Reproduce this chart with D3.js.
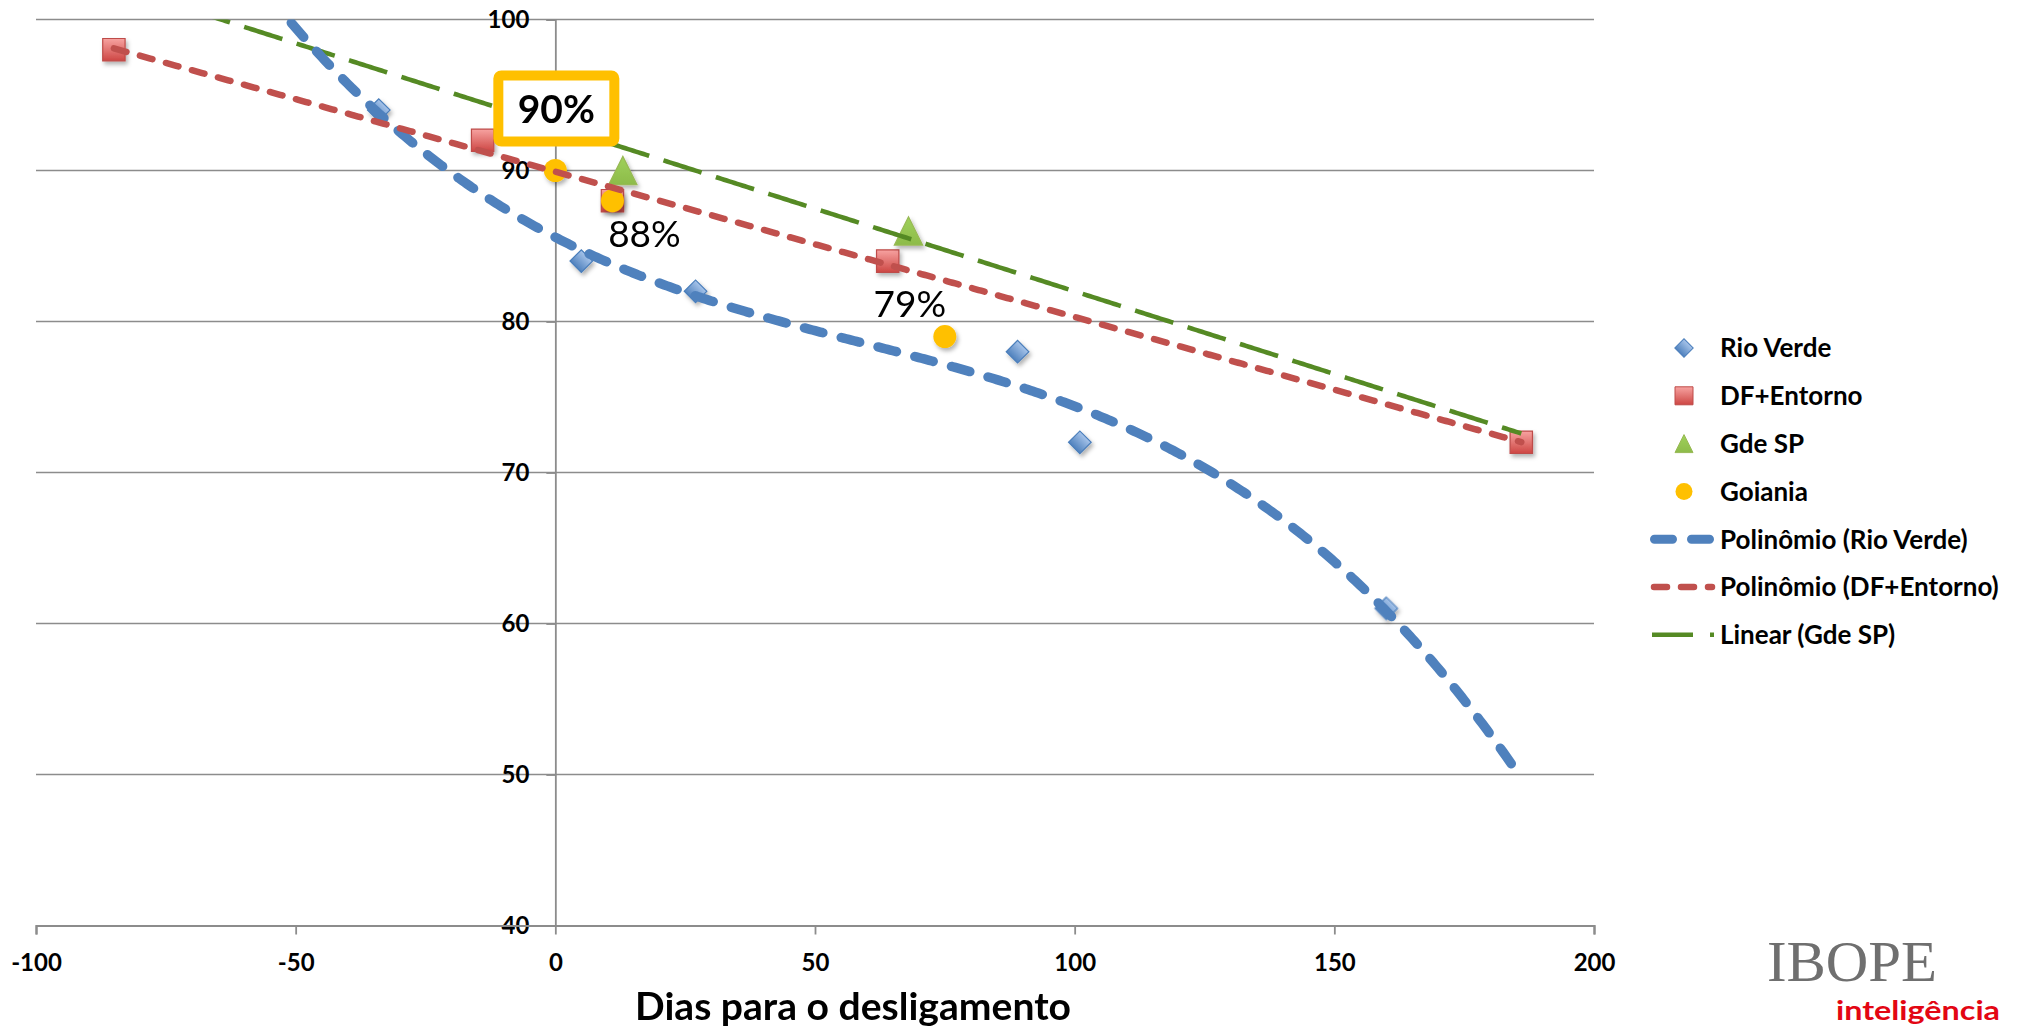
<!DOCTYPE html>
<html>
<head>
<meta charset="utf-8">
<script src="https://cdn.jsdelivr.net/npm/d3@7"></script>
<style>
  body { margin: 0; background: #fff; }
  text { font-family: Lato, "Open Sans", sans-serif; }
</style>
</head>
<body>
<svg width="2024" height="1031"></svg>
<script>
const xTicks = [-100, -50, 0, 50, 100, 150, 200];
const yTicks = [40, 50, 60, 70, 80, 90, 100];

const rioVerdeX = [-34, 5, 27, 89, 101, 160];
const rioVerdeY = [94, 84, 82, 78, 72, 61];
const dfX = [-85, -14, 11, 64, 186];
const dfY = [98, 92, 88, 84, 72];
const gdeSpX = [13, 68];
const gdeSpY = [90, 86];
const goianiaX = [0, 11, 75];
const goianiaY = [90, 88, 79];

// linear trend for Gde SP (intercept, slope)
const gdeSpTrend = [92.95, -0.1095];
// x range covered by each trendline
const rioVerdeRange = [-60, 186];
const dfRange = [-85, 186];
const gdeSpRange = [-70, 186];

const pointLabels = ['90%', '88%', '79%'];
const legendNames = ['Rio Verde', 'DF+Entorno', 'Gde SP', 'Goiania',
  'Polinômio (Rio Verde)', 'Polinômio (DF+Entorno)', 'Linear (Gde SP)'];

const svg = d3.select('svg');
const x = d3.scaleLinear().domain([-100, 200]).range([36, 1594]);
const y = d3.scaleLinear().domain([40, 100]).range([925.5, 19.5]);

// least squares polynomial, coefficients low -> high
function polyfit(xs, ys, deg) {
  const n = deg + 1;
  const A = d3.range(n).map(() => new Array(n + 1).fill(0));
  xs.forEach((xv, k) => {
    for (let i = 0; i < n; i++) {
      for (let j = 0; j < n; j++) A[i][j] += Math.pow(xv, i + j);
      A[i][n] += ys[k] * Math.pow(xv, i);
    }
  });
  for (let i = 0; i < n; i++) {
    let p = i;
    for (let r = i + 1; r < n; r++) if (Math.abs(A[r][i]) > Math.abs(A[p][i])) p = r;
    [A[i], A[p]] = [A[p], A[i]];
    for (let r = 0; r < n; r++) {
      if (r === i) continue;
      const f = A[r][i] / A[i][i];
      for (let c = i; c <= n; c++) A[r][c] -= f * A[i][c];
    }
  }
  return A.map((row, i) => row[n] / row[i]);
}
const evalPoly = (c, xv) => c.reduce((s, a, i) => s + a * Math.pow(xv, i), 0);

const defs = svg.append('defs');
defs.append('clipPath').attr('id', 'plot')
  .append('rect')
  .attr('x', x(-100)).attr('y', y(100))
  .attr('width', x(200) - x(-100)).attr('height', y(40) - y(100));

const shadow = defs.append('filter').attr('id', 'shadow')
  .attr('x', '-50%').attr('y', '-50%').attr('width', '200%').attr('height', '200%');
shadow.append('feDropShadow').attr('dx', 2).attr('dy', 3)
  .attr('stdDeviation', 2).attr('flood-color', '#000').attr('flood-opacity', 0.3);

function grad(id, top, bottom) {
  const g = defs.append('linearGradient').attr('id', id)
    .attr('x1', 0).attr('y1', 0).attr('x2', 0).attr('y2', 1);
  g.append('stop').attr('offset', '0%').attr('stop-color', top);
  g.append('stop').attr('offset', '100%').attr('stop-color', bottom);
}
grad('gBlue', '#a7c4ea', '#4f81bd');
grad('gRed', '#f7a3a1', '#cd4643');
grad('gGreen', '#9fd15a', '#8dbb4a');

// gridlines
svg.append('g')
  .selectAll('line')
  .data(yTicks.filter(d => d > 40))
  .enter().append('line')
  .attr('x1', x(-100)).attr('x2', x(200))
  .attr('y1', d => y(d)).attr('y2', d => y(d))
  .attr('stroke', '#8c8c8c').attr('stroke-width', 1.6);

// y axis through x = 0
const yAxis = svg.append('g')
  .attr('transform', `translate(${x(0)},0)`)
  .call(d3.axisLeft(y).tickValues(yTicks).tickSize(9).tickPadding(17).tickFormat(d => String(d)));
// x axis at the bottom
const xAxis = svg.append('g')
  .attr('transform', `translate(0,${y(40)})`)
  .call(d3.axisBottom(x).tickValues(xTicks).tickSize(9).tickPadding(19).tickFormat(d => String(d)));

[yAxis, xAxis].forEach(a => {
  a.selectAll('path, line').attr('stroke', '#8c8c8c').attr('stroke-width', 1.8);
  a.selectAll('text').attr('fill', '#000').style('font-size', '24px').style('font-weight', 700)
    .style('font-family', 'Lato, sans-serif');
});
xAxis.select('.domain').attr('stroke-width', 2.2);

// markers
const diamond = d3.symbol().type(d3.symbolSquare).size(256);
const square = d3.symbol().type(d3.symbolSquare).size(500);
const triangleType = {
  draw(ctx, size) {
    const r = Math.sqrt(size) / 2;
    ctx.moveTo(0, -r); ctx.lineTo(r, r); ctx.lineTo(-r, r); ctx.closePath();
  }
};
const triangle = d3.symbol().type(triangleType).size(800);
const circle = d3.symbol().type(d3.symbolCircle).size(Math.PI * 11.5 * 11.5);

const series = [
  { xs: rioVerdeX, ys: rioVerdeY, sym: diamond, fill: 'url(#gBlue)', stroke: '#4a7ebb', rot: 45 },
  { xs: dfX, ys: dfY, sym: square, fill: 'url(#gRed)', stroke: '#be4b48', rot: 0 },
  { xs: gdeSpX, ys: gdeSpY, sym: triangle, fill: 'url(#gGreen)', stroke: '#98b954', rot: 0 },
  { xs: goianiaX, ys: goianiaY, sym: circle, fill: '#ffc000', stroke: 'none', rot: 0 }
];

series.forEach(s => {
  svg.append('g').attr('filter', 'url(#shadow)')
    .selectAll('path')
    .data(s.xs.map((v, i) => [v, s.ys[i]]))
    .enter().append('path')
    .attr('d', s.sym())
    .attr('transform', d => `translate(${x(d[0])},${y(d[1])}) rotate(${s.rot})`)
    .attr('fill', s.fill)
    .attr('stroke', s.stroke).attr('stroke-width', 1.2);
});

// trendlines
const line = d3.line().x(d => x(d[0])).y(d => y(d[1]));
const rvCoef = polyfit(rioVerdeX, rioVerdeY, 3);
const dfCoef = polyfit(dfX, dfY, 2);

const trends = [
  { coef: gdeSpTrend, range: gdeSpRange, color: '#558a24', width: 4.6, dash: '40,15', cap: 'butt' },
  { coef: rvCoef, range: rioVerdeRange, color: '#4f81bd', width: 9.5, dash: '19,19', cap: 'round' },
  { coef: dfCoef, range: dfRange, color: '#c0504d', width: 6.5, dash: '13,14', cap: 'round' }
];

const trendG = svg.append('g').attr('clip-path', 'url(#plot)');
trends.forEach(t => {
  const pts = d3.range(t.range[0], t.range[1] + 0.001, 0.5).map(v => [v, evalPoly(t.coef, v)]);
  trendG.append('path')
    .attr('d', line(pts))
    .attr('fill', 'none')
    .attr('stroke', t.color)
    .attr('stroke-width', t.width)
    .attr('stroke-dasharray', t.dash)
    .attr('stroke-linecap', t.cap);
});

// data labels on the Goiania points
const labG = svg.append('g');
const box = labG.append('g')
  .attr('transform', `translate(${x(goianiaX[0])},${y(goianiaY[0]) - 62})`);
box.append('rect')
  .attr('x', -57).attr('y', -33).attr('width', 116).attr('height', 66).attr('rx', 3)
  .attr('fill', '#fff').attr('stroke', '#ffc000').attr('stroke-width', 10);
box.append('text')
  .attr('x', 1)
  .attr('text-anchor', 'middle').attr('dy', '0.36em')
  .style('font-size', '39px').style('font-weight', 700)
  .text(pointLabels[0]);

labG.append('text')
  .attr('x', x(goianiaX[1]) + 32).attr('y', y(goianiaY[1]) + 33)
  .attr('text-anchor', 'middle').attr('dy', '0.36em')
  .style('font-size', '37px')
  .text(pointLabels[1]);
labG.append('text')
  .attr('x', x(goianiaX[2]) - 35).attr('y', y(goianiaY[2]) - 33)
  .attr('text-anchor', 'middle').attr('dy', '0.36em')
  .style('font-size', '37px')
  .text(pointLabels[2]);

// axis title
svg.append('text')
  .attr('x', 853).attr('y', 1020)
  .attr('text-anchor', 'middle')
  .attr('textLength', 436).attr('lengthAdjust', 'spacingAndGlyphs')
  .style('font-size', '38px').style('font-weight', 700)
  .text('Dias para o desligamento');

// legend
const legend = svg.append('g').attr('transform', 'translate(1684,348)');
const legendSyms = [
  { sym: d3.symbol().type(d3.symbolSquare).size(170), rot: 45, fill: 'url(#gBlue)', stroke: '#4a7ebb' },
  { sym: d3.symbol().type(d3.symbolSquare).size(324), rot: 0, fill: 'url(#gRed)', stroke: '#be4b48' },
  { sym: d3.symbol().type(triangleType).size(324), rot: 0, fill: 'url(#gGreen)', stroke: '#98b954' },
  { sym: d3.symbol().type(d3.symbolCircle).size(Math.PI * 8.5 * 8.5), rot: 0, fill: '#ffc000', stroke: 'none' }
];
const legendLines = [
  { color: '#4f81bd', width: 9, dash: '18,19', cap: 'round', x1: -29.5, x2: 26 },
  { color: '#c0504d', width: 6.5, dash: '13,14', cap: 'round', x1: -30, x2: 28 },
  { color: '#558a24', width: 4.6, dash: '41,17', cap: 'butt', x1: -32, x2: 30 }
];

legendNames.forEach((name, i) => {
  const row = legend.append('g').attr('transform', `translate(0,${i * 47.8})`);
  if (i < 4) {
    const s = legendSyms[i];
    row.append('path').attr('d', s.sym())
      .attr('transform', `rotate(${s.rot})`)
      .attr('fill', s.fill).attr('stroke', s.stroke).attr('stroke-width', 1);
  } else {
    const l = legendLines[i - 4];
    row.append('line')
      .attr('x1', l.x1).attr('x2', l.x2)
      .attr('stroke', l.color).attr('stroke-width', l.width)
      .attr('stroke-dasharray', l.dash).attr('stroke-linecap', l.cap);
  }
  row.append('text')
    .attr('x', 36).attr('dy', '0.36em')
    .style('font-size', '26px').style('font-weight', 700)
    .text(name);
});

// IBOPE logo
svg.append('text')
  .attr('x', 1767).attr('y', 981)
  .attr('textLength', 170).attr('lengthAdjust', 'spacingAndGlyphs')
  .style('font-family', '"Liberation Serif", serif')
  .style('font-size', '58px').attr('fill', '#6f6f6f')
  .text('IBOPE');
svg.append('text')
  .attr('x', 1836).attr('y', 1020)
  .attr('textLength', 164).attr('lengthAdjust', 'spacingAndGlyphs')
  .style('font-size', '26px').style('font-weight', 700).attr('fill', '#e30613')
  .text('inteligência');
</script>
</body>
</html>
